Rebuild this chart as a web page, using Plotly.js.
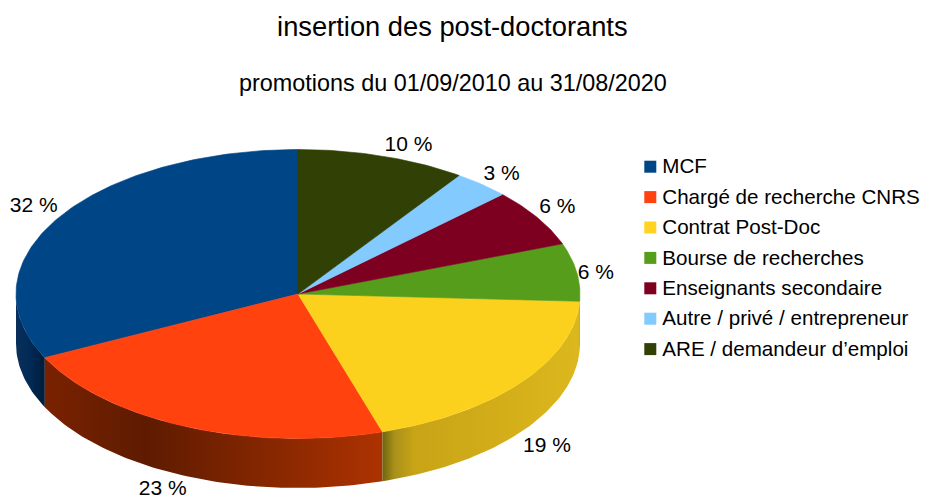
<!DOCTYPE html>
<html><head><meta charset="utf-8">
<script src="https://cdn.plot.ly/plotly-3.0.1.min.js"></script>
<style>html,body{margin:0;padding:0;background:#fff}</style></head>
<body><div id="chart" style="width:925px;height:497px"></div>
<script>
// data
const categories = ["MCF","Chargé de recherche CNRS","Contrat Post-Doc","Bourse de recherches","Enseignants secondaire","Autre / privé / entrepreneur","ARE / demandeur d’emploi"];
const counts = [10,7,6,2,2,1,3];
const colors = ["#004586","#ff420e","#fcd11e","#579d1c","#7e0021","#83caff","#314004"];
const titleText = "insertion des post-doctorants";
const subtitleText = "promotions du 01/09/2010 au 31/08/2020";
// label nudges from the rim at each slice's mid-angle
const labelDx = [-25,-24,26,19,20,20,26];
const labelDy = [-11,63,64,2,-10,-10,-10];
// wall shading, one gradient per visible slice
const wallShades = {
  0:[[0,"#0a2f5c"],[0.5,"#002a55"],[1,"#001c3a"]],
  1:[[0,"#7a2200"],[0.3,"#5e1b00"],[0.7,"#8a2800"],[1,"#ad3200"]],
  2:[[0,"#6f6410"],[0.06,"#a8901a"],[0.16,"#c8a416"],[0.7,"#d6b01a"],[1,"#dcb81e"]],
  3:[[0,"#46800f"],[1,"#46800f"]]
};

// pie geometry
const cx=298, cy=294, rx=282, ry=144.5, depth=49.5;
const total = counts.reduce((a,b)=>a+b,0);
const rimX = d => cx - rx*Math.sin(d*Math.PI/180);
const rimY = d => cy - ry*Math.cos(d*Math.PI/180);
function arc(a,b){const p=[];const n=Math.max(2,Math.ceil(Math.abs(b-a)));for(let i=0;i<=n;i++)p.push(a+(b-a)*i/n);return p;}

const traces=[]; const ranges=[]; let cum=0;
counts.forEach(c=>{ranges.push([cum/total*360,(cum+c)/total*360]);cum+=c;});

// side walls
ranges.forEach((r,i)=>{
  const a=Math.max(r[0],90), b=Math.min(r[1],270);
  if(b<=a) return;
  const t=arc(a,b);
  const xs=t.map(rimX).concat(t.slice().reverse().map(rimX));
  const ys=t.map(rimY).concat(t.slice().reverse().map(d=>rimY(d)+depth));
  traces.push({type:"scatter",mode:"lines",x:xs.concat(xs[0]),y:ys.concat(ys[0]),fill:"toself",
    line:{width:0,color:"rgba(0,0,0,0)"},
    fillgradient:{type:"horizontal",colorscale:wallShades[i]},
    hoverinfo:"skip",showlegend:false});
});
// top faces
ranges.forEach((r,i)=>{
  const t=arc(r[0],r[1]);
  traces.push({type:"scatter",mode:"lines",name:categories[i],
    x:[cx].concat(t.map(rimX),cx),y:[cy].concat(t.map(rimY),cy),
    fill:"toself",fillcolor:colors[i],line:{width:0.6,color:colors[i]},
    hoverinfo:"name",showlegend:false});
});
// percent labels
const mids=ranges.map(r=>(r[0]+r[1])/2);
traces.push({type:"scatter",mode:"text",
  x:mids.map((d,i)=>rimX(d)+labelDx[i]),y:mids.map((d,i)=>rimY(d)+labelDy[i]),
  text:counts.map(c=>Math.round(c/total*100)+" %"),
  textposition:"middle center",textfont:{family:"Liberation Sans",size:21,color:"#000"},
  hoverinfo:"skip",showlegend:false,cliponaxis:false});
// legend key
const keyX=650.3, keyTop=166.7, keyStep=30.4, keyTextGap=12, keyTextDrop=1.5;
traces.push({type:"scatter",mode:"markers",
  x:categories.map(()=>keyX),y:categories.map((_,i)=>keyTop+i*keyStep),
  marker:{symbol:"square",size:12,color:["#004586","#ff420e","#ffd320","#579d1c","#7e0021","#83caff","#314004"]},
  hoverinfo:"skip",showlegend:false,cliponaxis:false});
traces.push({type:"scatter",mode:"text",
  x:categories.map(()=>keyX+keyTextGap),y:categories.map((_,i)=>keyTop+i*keyStep+keyTextDrop),
  text:categories,textposition:"middle right",
  textfont:{family:"Liberation Sans",size:20.6,color:"#000"},
  hoverinfo:"skip",showlegend:false,cliponaxis:false});

const layout={
  width:925,height:497,margin:{l:0,r:0,t:0,b:0},paper_bgcolor:"#fff",plot_bgcolor:"#fff",showlegend:false,
  title:{text:titleText,x:0.489,xanchor:"center",y:0.947,yanchor:"middle",font:{family:"Liberation Sans",size:27.3,color:"#000"}},
  annotations:[{text:subtitleText,xref:"paper",yref:"paper",x:0.49,y:0.833,xanchor:"center",yanchor:"middle",showarrow:false,
    font:{family:"Liberation Sans",size:23.4,color:"#000"}}],
  xaxis:{range:[0,925],visible:false,fixedrange:true},
  yaxis:{range:[497,0],visible:false,fixedrange:true}
};
Plotly.newPlot("chart",traces,layout,{displayModeBar:false,staticPlot:true});
</script></body></html>
